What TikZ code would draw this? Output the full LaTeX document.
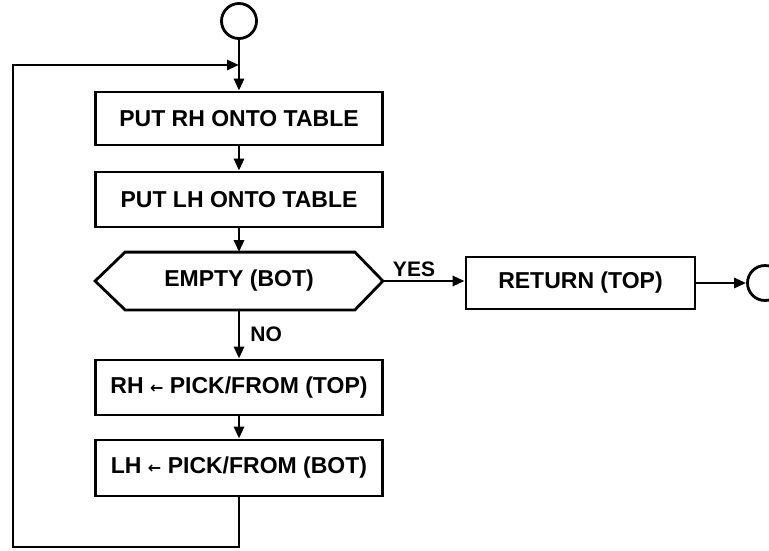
\documentclass[tikz,border=0pt]{standalone}
\usepackage{fontspec}
\setmainfont{Liberation Sans}
\newfontfamily\arrowfont{DejaVu Sans}
\usetikzlibrary{arrows.meta}
\begin{document}
\begin{tikzpicture}[x=1pt,y=-1pt,
  line width=2.8pt,
  boxfont/.style={font=\fontsize{23}{26}\selectfont\bfseries},
  box/.style={draw, boxfont, minimum width=287pt, minimum height=53pt, inner sep=0pt},
  lbl/.style={font=\fontsize{21}{24}\selectfont\bfseries, inner sep=0pt},
  arr/.style={-{Triangle[length=12pt,width=10pt]}},
  conn/.style={draw, circle, minimum size=35pt, inner sep=0pt}
]
\useasboundingbox (0,0) rectangle (769,550);
\node[conn] (start) at (239,21) {};
\node[box] (b1) at (239,118.5) {PUT RH ONTO TABLE};
\node[box, minimum height=55pt] (b2) at (239,199.5) {PUT LH ONTO TABLE};
\node[boxfont, minimum width=285pt, minimum height=55pt, inner sep=0pt] (hex) at (239,281) {EMPTY (BOT)};
\draw (hex.west) -- ([xshift=30pt]hex.north west) -- ([xshift=-28pt]hex.north east) -- (hex.east)
  -- ([xshift=-28pt]hex.south east) -- ([xshift=30pt]hex.south west) -- cycle;
\node[box, minimum height=55pt] (b3) at (239,387.5) {RH {\arrowfont\fontsize{16}{16}\selectfont ←} PICK/FROM (TOP)};
\node[box, minimum height=56pt] (b4) at (239,468) {LH {\arrowfont\fontsize{16}{16}\selectfont ←} PICK/FROM (BOT)};
\node[box, minimum width=229pt, minimum height=52pt] (ret) at (580.5,283) {RETURN (TOP)};
\node[conn] (end) at (765,283) {};
\coordinate (join) at (239,65);
\coordinate (lt) at (13,65);
\coordinate (lb) at (13,547);

\draw[arr] (start.south) -- (b1.north);
\draw[arr] (b1.south) -- (b2.north);
\draw[arr] (b2.south) -- (hex.north);
\draw[arr] (hex.south) -- node[lbl, right=10pt, pos=0.5] (no) {NO} (b3.north);
\draw[arr] (b3.south) -- (b4.north);
\draw[arr] (hex.east) -- (hex.east -| ret.west);
\node[lbl] (yes) at (414,269) {YES};
\draw[arr] (ret.east) -- (end.west);
\draw[arr] (b4.south) -- (b4.south |- lb) -- (lb) -- (lt) -- (join);
\end{tikzpicture}
\end{document}
